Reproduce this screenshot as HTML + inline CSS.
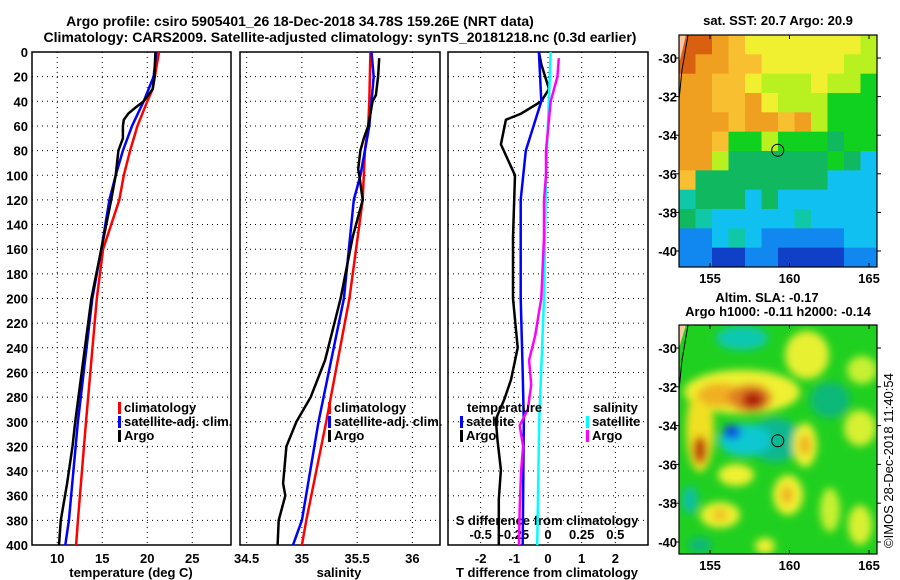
<!DOCTYPE html>
<html><head><meta charset="utf-8">
<style>
html,body{margin:0;padding:0;background:#fff;}
svg{display:block;font-family:"Liberation Sans",sans-serif;font-weight:bold;}
text{font-size:13px;fill:#000;}
</style></head>
<body>
<svg id="fig" width="900" height="580" viewBox="0 0 900 580">
<defs>
<filter id="blur6" x="-50%" y="-50%" width="200%" height="200%"><feGaussianBlur stdDeviation="4"/></filter>
<clipPath id="clipMap1"><rect x="679" y="35" width="198" height="232"/></clipPath>
<clipPath id="clipMap2"><rect x="679" y="325" width="198" height="229"/></clipPath>
</defs>
<text x="300" y="26" text-anchor="middle" style="font-size:14px">Argo profile: csiro 5905401_26 18-Dec-2018 34.78S 159.26E (NRT data)</text>
<text x="340" y="42" text-anchor="middle" style="font-size:14px">Climatology: CARS2009. Satellite-adjusted climatology: synTS_20181218.nc (0.3d earlier)</text>
<g id="g"></g>
</svg>
<script>
// ---------- data ----------
const depthTicks=[0,20,40,60,80,100,120,140,160,180,200,220,240,260,280,300,320,340,360,380,400];
const tTicks=[10,15,20,25];
const sTicks=[34.5,35,35.5,36];
const dTTicks=[-2,-1,0,1,2];
const dSTicks=[-0.5,-0.25,0,0.25,0.5];
const dSTickLabels=["-0.5","-0.25","0","0.25","0.5"];

const climTDepth=[0,30,40,60,80,100,120,160,200,300,380,400];
const climT=[21.3,20.6,20.0,18.9,18.1,17.4,16.9,15.1,14.4,13.2,12.3,12.1];
const satTDepth=[0,20,40,60,80,100,120,160,200,300,380,400];
const satT=[21.0,20.7,19.6,18.3,17.3,16.5,15.8,14.9,13.9,12.3,11.3,10.9];
const argoTDepth=[0,20,30,40,45,50,55,60,70,80,100,120,160,200,250,300,320,350,380,400];
const argoT=[20.9,20.8,20.6,19.6,18.7,17.9,17.4,17.3,17.3,16.8,16.5,16.0,14.9,13.8,12.9,12.0,11.7,11.1,10.4,10.2];

const climSDepth=[0,40,60,80,100,120,200,300,380,400];
const climS=[35.62,35.61,35.60,35.57,35.56,35.55,35.43,35.22,35.04,35.0];
const satSDepth=[0,20,40,60,80,100,120,200,300,380,400];
const satS=[35.63,35.65,35.63,35.61,35.57,35.53,35.47,35.38,35.15,35.0,34.92];
const argoSDepth=[5,20,35,40,50,60,70,80,95,100,120,150,200,250,280,300,320,350,360,380,400];
const argoS=[35.70,35.69,35.67,35.64,35.62,35.60,35.56,35.53,35.51,35.52,35.55,35.46,35.35,35.21,35.08,34.95,34.86,34.83,34.85,34.79,34.78];

const diffDepth=[0,10,30,40,50,55,75,100,150,200,240,266,282,298,315,339,363,396,400];
const argoDT=[-0.27,-0.2,0.03,-0.2,-0.8,-1.25,-1.4,-0.98,-1.04,-1.04,-0.9,-1.1,-1.3,-1.55,-1.5,-1.4,-1.46,-1.46,-1.46];
const satDTDepth=[0,40,80,120,200,260,300,400];
const satDT=[-0.27,-0.2,-0.66,-0.81,-0.81,-0.75,-0.72,-0.75];
const satDSDepth=[0,100,200,300,400];
const satDS=[0.02,-0.015,-0.03,-0.065,-0.08];
const argoDSDepth=[5,20,40,80,100,120,150,200,210,230,250,270,290,303,320,340,370,400];
const argoDS=[0.08,0.07,0.02,-0.015,-0.015,-0.03,-0.03,-0.05,-0.065,-0.095,-0.14,-0.125,-0.15,-0.21,-0.185,-0.2,-0.21,-0.215];

// ---------- helpers ----------
const NS="http://www.w3.org/2000/svg";
const G=document.getElementById('g');
function mk(tag,attrs,parent){const e=document.createElementNS(NS,tag);for(const k in attrs)e.setAttribute(k,attrs[k]);(parent||G).appendChild(e);return e;}
const Y0=52,Y1=545;
const yD=d=>Y0+(d/400)*(Y1-Y0);

function panel(x0,x1,dmin,dmax,name){
  const xs=v=>x0+(v-dmin)/(dmax-dmin)*(x1-x0);
  const fr=mk('rect',{x:x0,y:Y0,width:x1-x0,height:Y1-Y0,fill:'none',stroke:'#000','stroke-width':1.5});
  
  
  depthTicks.forEach(d=>{if(d>0&&d<400){const l=mk('line',{x1:x0,x2:x1,y1:yD(d),y2:yD(d),stroke:'#000','stroke-dasharray':'1 4'});
    
    }});
  return xs;
}
function vgrid(xs,ticks,name){ticks.forEach(v=>{const l=mk('line',{x1:xs(v),x2:xs(v),y1:Y0,y2:Y1,stroke:'#000','stroke-dasharray':'1 4'});
  
  });}
function xlabels(xs,ticks,labels,y,name){ticks.forEach((v,i)=>{const t=mk('text',{x:xs(v),y:y,'text-anchor':'middle'});t.textContent=labels?labels[i]:String(v);
  
  });}
function line(xs,vals,depths,color,name){
  const pts=vals.map((v,i)=>xs(v).toFixed(1)+','+yD(depths[i]).toFixed(1)).join(' ');
  const p=mk('polyline',{points:pts,fill:'none',stroke:color,'stroke-width':2.5});
  
  
}
function legend(x,y,color,label,name){
  const r=mk('rect',{x:x,y:y-10,width:3,height:12,fill:color});
  
  
  const t=mk('text',{x:x+6,y:y});t.textContent=label;
  
  
}
function txt(x,y,s,name,anchor,extra){const t=mk('text',Object.assign({x:x,y:y,'text-anchor':anchor||'start'},extra||{}));t.textContent=s;
  
  return t;}

// depth labels
depthTicks.forEach(d=>{const t=mk('text',{x:28,y:yD(d)+5,'text-anchor':'end'});t.textContent=d;
  
  });

// Panel 1: temperature
const xT=panel(32,231,7.2,29.3,'temperature-panel');
vgrid(xT,tTicks,'temperature');
xlabels(xT,tTicks,null,563,'temperature-x');
txt(131,577,'temperature (deg C)','temperature-x-title','middle');
line(xT,climT,climTDepth,'#ff0000','temperature-climatology-line');
line(xT,satT,satTDepth,'#0000ff','temperature-satellite-line');
line(xT,argoT,argoTDepth,'#000','temperature-argo-line');
legend(118,412,'#ff0000','climatology','temp-legend-climatology');
legend(118,426,'#0000ff','satellite-adj. clim.','temp-legend-satellite');
legend(118,440,'#000','Argo','temp-legend-argo');

// Panel 2: salinity
const xS=panel(240,440,34.44,36.25,'salinity-panel');
vgrid(xS,sTicks,'salinity');
xlabels(xS,sTicks,null,563,'salinity-x');
txt(339,577,'salinity','salinity-x-title','middle');
line(xS,climS,climSDepth,'#ff0000','salinity-climatology-line');
line(xS,satS,satSDepth,'#0000ff','salinity-satellite-line');
line(xS,argoS,argoSDepth,'#000','salinity-argo-line');
legend(328,412,'#ff0000','climatology','sal-legend-climatology');
legend(328,426,'#0000ff','satellite-adj. clim.','sal-legend-satellite');
legend(328,440,'#000','Argo','sal-legend-argo');

// Panel 3: differences
const xDT=panel(448,648,-2.97,2.97,'difference-panel');
const xDS=v=>xDT(v*4);
vgrid(xDT,dTTicks,'difference');
xlabels(xDT,dTTicks,null,563,'t-difference-x');
txt(547,577,'T difference from climatology','t-difference-x-title','middle');
txt(547,525,'S difference from climatology','s-difference-x-title','middle');
xlabels(xDS,dSTicks,dSTickLabels,539,'s-difference-x');
line(xDT,argoDT,diffDepth,'#000','t-difference-argo-line');
line(xDT,satDT,satDTDepth,'#0000ff','t-difference-satellite-line');
line(xDS,satDS,satDSDepth,'#00ffff','s-difference-satellite-line');
line(xDS,argoDS,argoDSDepth,'#ff00ff','s-difference-argo-line');
txt(467,412,'temperature','diff-legend-temperature-heading');
legend(460,426,'#0000ff','satellite','diff-legend-t-satellite');
legend(460,440,'#000','Argo','diff-legend-t-argo');
txt(593,412,'salinity','diff-legend-salinity-heading');
legend(586,426,'#00ffff','satellite','diff-legend-s-satellite');
legend(586,440,'#ff00ff','Argo','diff-legend-s-argo');

// ---------- Maps ----------
const lonTicks=[155,160,165];
const latTicks=[-30,-32,-34,-36,-38,-40];
const lonX=l=>710+(l-155)*15.9;
const map1LatY=l=>58+(-30-l)*19.3;
const map2LatY=l=>348+(-30-l)*19.4;

const sstRows=[
"RROoYYYYYYYy",
"ROOooYYYYYyy",
"OOooYyyyYyyG",
"OOooOYyyyGGG",
"OOOoOOoOyGGG",
"OOoGGyGGGgGG",
"OOyggggggGgcc",
"oggggggggccc",
"Cgggcgcccccc",
"gCcccccCcccc",
"BBcCcBBBBBcc",
"BBDDBBDDDDBB"];
const sstCol={R:'#d86010',O:'#f0a020',o:'#f8c030',Y:'#f0f030',y:'#b8f020',G:'#10d020',g:'#10b860',C:'#10c8a8',c:'#10c0f0',B:'#1088f0',D:'#1040c8'};

function drawMap(clip,name){
  const grp=mk('g',{'clip-path':'url(#'+clip+')'});
  
  
  return grp;
}
// Map 1 SST
txt(778,25,'sat. SST: 20.7 Argo: 20.9','sst-map-title','middle');
const g1=drawMap('clipMap1','sst-map');
const cw=198/12, ch=232/12;
sstRows.forEach((row,r)=>{for(let c=0;c<12;c++){const k=row[c]||'c';
  mk('rect',{x:679+c*cw,y:35+r*ch,width:cw+0.5,height:ch+0.5,fill:sstCol[k]},g1);}});
mk('polygon',{points:'679,35 686,35 680,60 679,60',fill:'#f8c8a0'},g1);
mk('polyline',{points:'688,35 682,70 679,100',fill:'none',stroke:'#000'},g1);

// Map 2 SLA
txt(767,302,'Altim. SLA: -0.17','sla-map-title','middle');
txt(778,316,'Argo h1000: -0.11 h2000: -0.14','sla-map-subtitle','middle');
const g2=drawMap('clipMap2','sla-map');
mk('rect',{x:679,y:325,width:198,height:229,fill:'#20d020'},g2);
const blobs=g2.appendChild(document.createElementNS(NS,'g'));blobs.setAttribute('filter','url(#blur6)');
[
 [742,338,26,12,'#10c8b0'],[807,355,22,24,'#e8f030'],[862,370,15,14,'#c8f030'],[830,400,20,18,'#10b878'],
 [860,428,16,18,'#d8f030'],[742,392,58,22,'#f0f030'],[700,430,14,42,'#f0e020'],[720,395,22,12,'#f0b020'],
 [750,398,22,14,'#e08020'],[753,400,11,9,'#b02010'],[700,450,7,14,'#c04010'],[775,440,26,22,'#10b890'],
 [745,440,26,16,'#10c8d0'],[732,432,9,7,'#1050e0'],[805,445,12,22,'#f0f030'],[805,445,6,10,'#f0b020'],
 [736,475,18,11,'#f0f030'],[788,495,15,20,'#f0f030'],[787,495,6,9,'#f0b020'],[720,515,20,13,'#f0f030'],
 [720,515,8,6,'#f0c020'],[765,546,10,8,'#f0f030'],[860,525,12,20,'#d8f030'],[690,500,8,14,'#10c0a0'],
 [830,510,10,22,'#c8f030'],[700,545,12,8,'#10b878']
].forEach(b=>mk('ellipse',{cx:b[0],cy:b[1],rx:b[2],ry:b[3],fill:b[4]},blobs));
mk('polygon',{points:'679,325 686,325 680,345 679,345',fill:'#f8c8a0'},g2);
mk('polyline',{points:'688,325 682,360 679,390',fill:'none',stroke:'#000'},g2);

[[35,232,map1LatY,'sst'],[325,229,map2LatY,'sla']].forEach(([y0,h,yf,nm])=>{
  const f=mk('rect',{x:679,y:y0,width:198,height:h,fill:'none',stroke:'#000','stroke-width':1.2});
  
  
  lonTicks.forEach(l=>{mk('line',{x1:lonX(l),x2:lonX(l),y1:y0,y2:y0+4,stroke:'#000'});mk('line',{x1:lonX(l),x2:lonX(l),y1:y0+h,y2:y0+h-4,stroke:'#000'});
    txt(lonX(l),y0+h+16,String(l),nm+'-lon-tick-label','middle');});
  latTicks.forEach(l=>{mk('line',{x1:877,x2:881,y1:yf(l),y2:yf(l),stroke:'#000'});mk('line',{x1:679,x2:675,y1:yf(l),y2:yf(l),stroke:'#000'});
    txt(677,yf(l)+5,String(l),nm+'-lat-tick-label','end');});
  const c=mk('circle',{cx:lonX(159.26),cy:yf(-34.78),r:6,fill:'none',stroke:'#000','stroke-width':1});
  
  
});
txt(893,548,'©IMOS 28-Dec-2018 11:40:54','copyright-label','start',{transform:'rotate(-90 893 548)',style:'font-weight:normal;font-size:13px'});
</script>
</body></html>
